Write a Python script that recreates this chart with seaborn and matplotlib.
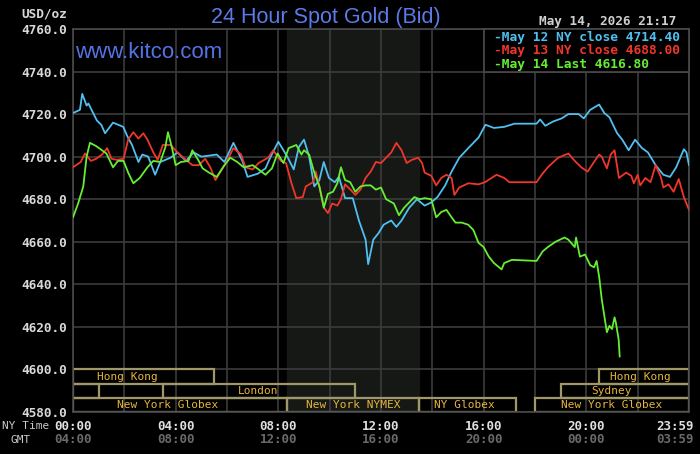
import matplotlib
matplotlib.use("Agg")
import matplotlib.pyplot as plt
from matplotlib.patches import Rectangle
import seaborn as sns
import numpy as np
import pandas as pd

# --- data (hours NY time, USD/oz) ---
may12_hours = [0, 0.27, 0.36, 0.53, 0.6, 0.93, 1.1, 1.25, 1.56, 1.96,
               2.1, 2.3, 2.55, 2.7, 2.93, 3.2, 3.4, 3.8, 4.07, 4.4,
               4.7, 5.0, 5.6, 5.9, 6.25, 6.6, 6.8, 7.2, 7.5, 7.7,
               8.0, 8.35, 8.6, 8.8, 9.0, 9.2, 9.4, 9.6, 9.77, 9.97,
               10.2, 10.36, 10.6, 10.9, 11.14, 11.4, 11.5, 11.7, 11.9, 12.1,
               12.4, 12.6, 12.8, 13.1, 13.4, 13.7, 13.96, 14.2, 14.5, 14.75,
               15.05, 15.4, 15.8, 16.07, 16.4, 16.8, 17.2, 18.06, 18.2, 18.4,
               18.7, 19.04, 19.3, 19.7, 19.9, 20.15, 20.5, 20.7, 20.9, 21.2,
               21.4, 21.65, 21.9, 22.17, 22.4, 22.7, 23.0, 23.26, 23.5, 23.8,
               23.9, 24.0]
may12_prices = [4720.5, 4722, 4729.5, 4724, 4725, 4717, 4715, 4711, 4716, 4714,
                4710, 4705.5, 4697.5, 4701, 4700, 4691.5, 4697.5, 4699.5, 4702, 4698,
                4702, 4700, 4701, 4697.5, 4706.5, 4698, 4690.5, 4692, 4694.5, 4700,
                4707, 4700, 4694, 4704.5, 4708, 4700, 4686, 4689, 4697.5, 4690,
                4688, 4690.5, 4680.5, 4680.5, 4670, 4661, 4649.5, 4661, 4664, 4668,
                4670, 4667, 4670, 4676, 4680, 4677, 4678.5, 4681, 4686.5, 4693,
                4699.5, 4704, 4709, 4715, 4713.5, 4714, 4715.5, 4715.5, 4717.5, 4714.5,
                4716.5, 4718, 4720, 4720, 4718, 4722, 4724.5, 4720.5, 4718.5, 4711,
                4708, 4703, 4708, 4704, 4702, 4696, 4691.5, 4690.5, 4695, 4703.5,
                4702, 4696]

may13_hours = [0, 0.3, 0.47, 0.7, 0.9, 1.13, 1.33, 1.5, 1.7, 1.97,
               2.15, 2.35, 2.55, 2.74, 2.9, 3.13, 3.3, 3.5, 3.8, 4.07,
               4.4, 4.65, 4.9, 5.15, 5.35, 5.55, 5.75, 6.0, 6.25, 6.55,
               6.72, 7.0, 7.23, 7.6, 7.8, 8.1, 8.3, 8.5, 8.7, 8.95,
               9.07, 9.35, 9.46, 9.6, 9.78, 9.93, 10.1, 10.3, 10.44, 10.6,
               10.85, 11.0, 11.2, 11.4, 11.6, 11.8, 12.0, 12.2, 12.4, 12.6,
               12.8, 13.0, 13.2, 13.45, 13.6, 13.7, 13.96, 14.15, 14.35, 14.55,
               14.75, 14.86, 15.05, 15.4, 15.8, 16.05, 16.5, 16.8, 17.0, 18.06,
               18.26, 18.5, 18.9, 19.3, 19.55, 19.8, 20.05, 20.3, 20.5, 20.6,
               20.8, 20.95, 21.1, 21.27, 21.55, 21.75, 21.85, 22.0, 22.1, 22.3,
               22.5, 22.7, 22.9, 23.0, 23.2, 23.4, 23.6, 23.8, 24.0]
may13_prices = [4695, 4697.5, 4701.5, 4698, 4699, 4701, 4704, 4699, 4698.5, 4699,
                4708, 4711.5, 4708.5, 4711, 4708, 4702, 4698.5, 4705.5, 4705.5, 4702,
                4698.5, 4696, 4696, 4699, 4695, 4689, 4693, 4698, 4704, 4701,
                4695, 4694, 4697, 4699.5, 4703, 4698, 4697, 4688, 4680.5, 4681,
                4686, 4688, 4693, 4686, 4676, 4673.5, 4678, 4677, 4680, 4687,
                4684, 4682, 4684.5, 4690, 4693, 4697.5, 4697, 4699.5, 4702, 4706.5,
                4703, 4697, 4698.5, 4699.5, 4697, 4692.5, 4691, 4686.5, 4690, 4691.5,
                4690, 4682, 4685.5, 4687.5, 4687, 4688, 4691.5, 4690, 4688, 4688,
                4691.5, 4695, 4699.5, 4701.5, 4698, 4695, 4693, 4697.5, 4701, 4700,
                4694.5, 4701, 4703, 4690, 4692.5, 4691, 4687.5, 4691.5, 4686.5, 4690,
                4688, 4696, 4690.5, 4685.5, 4687, 4683.5, 4689.5, 4681, 4675]

may14_hours = [0, 0.2, 0.4, 0.53, 0.66, 0.9, 1.13, 1.3, 1.56, 1.75,
               1.97, 2.15, 2.35, 2.6, 2.9, 3.13, 3.4, 3.6, 3.7, 3.85,
               4.0, 4.2, 4.5, 4.65, 4.9, 5.05, 5.3, 5.6, 5.9, 6.13,
               6.4, 6.65, 7.0, 7.23, 7.5, 7.75, 7.97, 8.2, 8.4, 8.5,
               8.7, 8.9, 9.0, 9.2, 9.4, 9.6, 9.77, 9.93, 10.13, 10.3,
               10.44, 10.6, 10.8, 11.0, 11.2, 11.4, 11.6, 11.8, 12.0, 12.2,
               12.5, 12.7, 12.9, 13.1, 13.3, 13.5, 13.7, 13.96, 14.15, 14.35,
               14.55, 14.75, 14.9, 15.15, 15.4, 15.6, 15.8, 16.0, 16.2, 16.4,
               16.7, 16.8, 17.1, 18.06, 18.3, 18.5, 18.8, 19.15, 19.3, 19.55,
               19.6, 19.75, 19.95, 20.15, 20.3, 20.4, 20.5, 20.6, 20.8, 20.9,
               21.0, 21.1, 21.15, 21.26, 21.3]
may14_prices = [4671.5, 4678, 4686, 4700, 4706.5, 4705, 4703, 4701.5, 4695, 4698,
                4698, 4692.5, 4687.5, 4690, 4695, 4698, 4697.5, 4704.5, 4711.5, 4704.5,
                4696, 4697.5, 4698, 4703, 4698, 4694.5, 4692.5, 4690.5, 4696, 4699.5,
                4697.5, 4695, 4696, 4694, 4691.5, 4694.5, 4701.5, 4697, 4704, 4704.5,
                4705.5, 4701, 4703, 4701, 4692.5, 4686, 4676, 4682.5, 4683.5, 4687.5,
                4695, 4689, 4688, 4683.5, 4686, 4686.5, 4686.5, 4684.5, 4685.5, 4680,
                4678, 4672.5, 4676, 4678.5, 4681, 4680, 4680.5, 4680, 4671.5, 4674,
                4675, 4671.5, 4669, 4669, 4668, 4665.5, 4659.5, 4657.5, 4653, 4650,
                4647, 4650, 4651.5, 4651, 4655.5, 4657.5, 4660, 4662, 4661, 4657.5,
                4662, 4653, 4654, 4649, 4648, 4651, 4643.5, 4633, 4617.5, 4620.5,
                4619, 4624.5, 4622, 4614, 4606]

series_names = ["May 12 NY close 4714.40", "May 13 NY close 4688.00", "May 14 Last 4616.80"]
series_colors = ["#4fc0f0", "#f0362a", "#66ee33"]

y_ticks = [4580, 4600, 4620, 4640, 4660, 4680, 4700, 4720, 4740, 4760]
time_ticks = [0, 4, 8, 12, 16, 20, 24]
ny_labels = ["00:00", "04:00", "08:00", "12:00", "16:00", "20:00", "23:59"]
gmt_labels = ["04:00", "08:00", "12:00", "16:00", "20:00", "00:00", "03:59"]

nymex_open, nymex_close = 8.33, 13.5

# trading sessions: row, start, end, label, label position (hours)
session_rows = [0, 0, 1, 1, 1, 2, 2, 2, 2]
session_start = [0, 20.5, 0, 3.5, 19.0, 0, 8.33, 13.5, 18.0]
session_end = [5.5, 24, 1.0, 11.0, 24, 8.33, 13.5, 17.25, 24]
session_names = ["Hong Kong", "Hong Kong", "", "London", "Sydney",
                 "New York Globex", "New York NYMEX", "NY Globex", "New York Globex"]
session_label_at = [2.1, 22.1, 0.5, 7.2, 21.0, 3.7, 10.9, 15.25, 21.0]

df = pd.concat([
    pd.DataFrame({"hour": may12_hours, "price": may12_prices, "series": series_names[0]}),
    pd.DataFrame({"hour": may13_hours, "price": may13_prices, "series": series_names[1]}),
    pd.DataFrame({"hour": may14_hours, "price": may14_prices, "series": series_names[2]}),
])

sns.set_theme(style="dark", rc={
    "figure.facecolor": "black",
    "axes.facecolor": "black",
    "savefig.facecolor": "black",
})
mono = "DejaVu Sans Mono"
grid_col = "#3c3c3c"

fig = plt.figure(figsize=(7, 4.54), dpi=100)
ax = fig.add_axes([73 / 700, 1 - 412 / 454, 616 / 700, 383 / 454])

ax.axvspan(nymex_open, nymex_close, color="#151815", zorder=0)

sns.lineplot(data=df, x="hour", y="price", hue="series", hue_order=series_names,
             palette=series_colors, linewidth=1.3, errorbar=None, legend=False,
             ax=ax, zorder=3)

ax.set_xlim(0, 24)
ax.set_ylim(4580, 4760)
ax.set_xticks(np.arange(0, 25, 2))
ax.set_xticklabels([])
ax.set_yticks(y_ticks)
ax.set_yticklabels([f"{v:.1f}" for v in y_ticks], fontfamily=mono,
                   fontweight="bold", fontsize=9.2, color="#d8d8d8")
ax.tick_params(axis="both", length=0, pad=4)
ax.grid(True, color=grid_col, linewidth=1.2, zorder=1)
ax.set_axisbelow(True)
ax.set_xlabel("")
ax.set_ylabel("")
for sp in ax.spines.values():
    sp.set_color("#4a4a4a")
    sp.set_linewidth(1.2)

# session boxes
row_h = 20 / 3
for row, s, e, name, lx in zip(session_rows, session_start, session_end,
                              session_names, session_label_at):
    yc = 4600 - (row + 0.5) * row_h
    ax.barh(yc, e - s, left=s, height=row_h, fill=False,
            edgecolor="#a09868", linewidth=1.6, zorder=2)
    if name:
        ax.text(lx, yc, name, ha="center", va="center", fontfamily=mono,
                fontsize=8, color="#e6b63c", zorder=4)

# time labels
xt = ax.get_xaxis_transform()
for i, (t, ny, gmt) in enumerate(zip(time_ticks, ny_labels, gmt_labels)):
    ha = "right" if i == len(time_ticks) - 1 else "center"
    off = 3.6 if ha == "right" else 0
    ax.annotate(ny, (t, -0.037), xycoords=xt, xytext=(off, 0),
                textcoords="offset points", ha=ha, va="center", fontfamily=mono,
                fontweight="bold", fontsize=9, color="#e0e0e0", annotation_clip=False)
    ax.annotate(gmt, (t, -0.073), xycoords=xt, xytext=(off, 0),
                textcoords="offset points", ha=ha, va="center", fontfamily=mono,
                fontweight="bold", fontsize=9, color="#6a6a6a", annotation_clip=False)

fig.text(2 / 700, 1 - 426 / 454, "NY Time", ha="left", va="center",
         fontfamily=mono, fontsize=8, color="#c8c8c8")
fig.text(21 / 700, 1 - 440 / 454, "GMT", ha="center", va="center",
         fontfamily=mono, fontsize=8, color="#c8c8c8")
fig.text(67 / 700, 1 - 14 / 454, "USD/oz", ha="right", va="center",
         fontfamily=mono, fontweight="bold", fontsize=9.2, color="#d8d8d8")

fig.text(326 / 700, 1 - 17 / 454, "24 Hour Spot Gold (Bid)", ha="center", va="center",
         fontfamily="Liberation Sans", fontsize=15.5, color="#5b7be8")
fig.text(75 / 700, 1 - 52 / 454, "www.kitco.com", ha="left", va="center",
         fontfamily="Liberation Sans", fontsize=16, color="#5572e4")
fig.text(676 / 700, 1 - 21 / 454, "May 14, 2026 21:17", ha="right", va="center",
         fontfamily=mono, fontweight="bold", fontsize=9.2, color="#cfcfcf")

# legend box, drawn by hand so it stays as compact as the original
ax.add_patch(Rectangle((0.667, 0.888), 0.333, 0.112, transform=ax.transAxes,
                       facecolor="black", edgecolor="#4a4a4a", linewidth=1.2,
                       zorder=5, clip_on=False))
for i, (name, col) in enumerate(zip(series_names, series_colors)):
    ax.text(0.684, 0.979 - i * 0.0355, "-" + name, transform=ax.transAxes,
            ha="left", va="center", fontfamily=mono, fontweight="bold",
            fontsize=9.3, color=col, zorder=6)

fig.savefig("out.png", dpi=100, facecolor="black")
